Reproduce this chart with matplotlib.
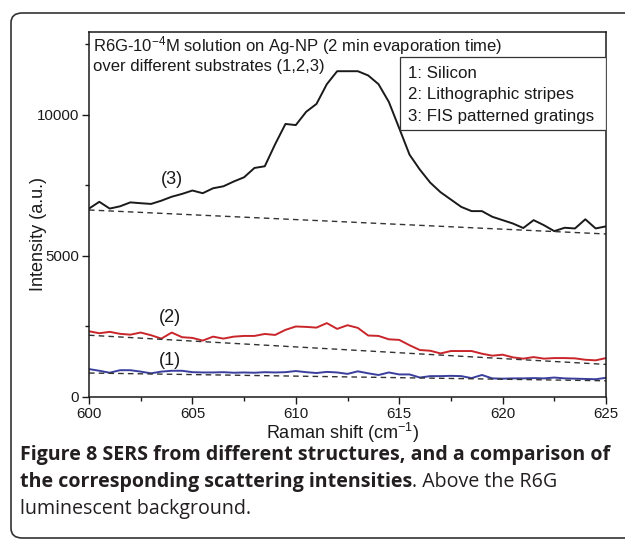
import matplotlib
matplotlib.use("Agg")
import matplotlib.pyplot as plt
from matplotlib.patches import FancyBboxPatch, Rectangle
from matplotlib.ticker import MultipleLocator

plt.rcParams['font.family'] = ['Liberation Sans', 'DejaVu Sans']
plt.rcParams['mathtext.fontset'] = 'custom'
plt.rcParams['mathtext.rm'] = 'Liberation Sans'
plt.rcParams['mathtext.it'] = 'Liberation Sans:italic'
plt.rcParams['mathtext.bf'] = 'Liberation Sans:bold'

# ---- data ----
raman_shift = [600.0, 600.5, 601.0, 601.5, 602.0, 602.5, 603.0, 603.5, 604.0, 604.5,
               605.0, 605.5, 606.0, 606.5, 607.0, 607.5, 608.0, 608.5, 609.0, 609.5,
               610.0, 610.5, 611.0, 611.5, 612.0, 612.5, 613.0, 613.5, 614.0, 614.5,
               615.0, 615.5, 616.0, 616.5, 617.0, 617.5, 618.0, 618.5, 619.0, 619.5,
               620.0, 620.5, 621.0, 621.5, 622.0, 622.5, 623.0, 623.5, 624.0, 624.5,
               625.0]

silicon = [990, 930, 860, 950, 950, 900, 840, 900, 930, 930,
           880, 870, 870, 880, 860, 870, 860, 880, 870, 880,
           920, 880, 850, 890, 870, 820, 910, 840, 780, 870,
           800, 800, 690, 740, 740, 750, 740, 670, 780, 660,
           650, 660, 660, 670, 660, 690, 660, 650, 640, 630,
           680]

litho_stripes = [2330, 2260, 2310, 2240, 2210, 2285, 2190, 2070, 2285, 2120,
                 2095, 2000, 2140, 2070, 2140, 2165, 2165, 2235, 2200, 2380,
                 2500, 2485, 2460, 2620, 2415, 2545, 2450, 2180, 2165, 2045,
                 2025, 1835, 1665, 1640, 1545, 1630, 1630, 1630, 1535, 1465,
                 1500, 1405, 1360, 1415, 1360, 1380, 1380, 1370, 1320, 1300,
                 1380]

fis_gratings = [6680, 6920, 6680, 6760, 6900, 6870, 6845, 6960, 7100, 7200,
                7320, 7225, 7400, 7470, 7640, 7790, 8120, 8180, 8960, 9680,
                9640, 10110, 10390, 11090, 11550, 11550, 11550, 11400, 11090, 10460,
                9530, 8590, 8060, 7600, 7260, 7000, 6740, 6590, 6590, 6390,
                6270, 6150, 5990, 6270, 6090, 5880, 6000, 5975, 6300, 5975,
                6050]

baseline_x = [600, 625]
baseline_1 = [850, 575]
baseline_2 = [2190, 1155]
baseline_3 = [6630, 5780]

curve_labels = ["(1)", "(2)", "(3)"]
curve_label_x = [603.9, 603.9, 604.0]
curve_label_y = [1310, 2830, 7700]

title_lines = ["R6G-10$^{-4}$M solution on Ag-NP (2 min evaporation time)",
               "over different substrates (1,2,3)"]
legend_lines = ["1: Silicon", "2: Lithographic stripes", "3: FIS patterned gratings"]

W, H = 625, 540
fig = plt.figure(figsize=(W / 100, H / 100), dpi=100)


def fx(px):
    return px / W


def fy(py):
    return 1 - py / H


# outer rounded frame
frame = FancyBboxPatch((fx(11), fy(538)), (700 - 11) / W, (538 - 13) / H,
                       boxstyle="round,pad=0,rounding_size=0.018",
                       transform=fig.transFigure, fill=False,
                       edgecolor='#333333', linewidth=1.2, clip_on=False)
fig.patches.append(frame)

ax = fig.add_axes([fx(89), fy(397), (606 - 89) / W, (397 - 32) / H])

ax.plot(raman_shift, silicon, color='#3a3f9e', lw=1.4)
ax.plot(raman_shift, litho_stripes, color='#c9262b', lw=1.4)
ax.plot(raman_shift, fis_gratings, color='#1a1a1a', lw=1.4)
for b in (baseline_1, baseline_2, baseline_3):
    ax.plot(baseline_x, b, color='#333333', lw=1.0, ls=(0, (4, 3)))

for t, x, y in zip(curve_labels, curve_label_x, curve_label_y):
    ax.text(x, y, t, fontsize=13, ha='center', va='center', color='#1a1a1a')

ax.set_xlim(600, 625)
ax.set_ylim(0, 12940)
ax.xaxis.set_major_locator(MultipleLocator(5))
ax.xaxis.set_minor_locator(MultipleLocator(2.5))
ax.yaxis.set_major_locator(MultipleLocator(5000))
ax.yaxis.set_minor_locator(MultipleLocator(2500))
ax.tick_params(which='both', direction='out', top=False, right=False,
               labelsize=10.8, colors='#1a1a1a', width=1.0)
ax.tick_params(which='major', length=5, pad=2)
ax.tick_params(which='minor', length=3)
for s in ax.spines.values():
    s.set_linewidth(1.1)
    s.set_color('#1a1a1a')

ax.set_xlabel("Raman shift (cm$^{-1}$)", fontsize=13, color='#1a1a1a')
ax.xaxis.set_label_coords(0.49, -0.066)
ax.set_ylabel("Intensity (a.u.)", fontsize=13, color='#1a1a1a')
ax.yaxis.set_label_coords(-0.082, 0.447)

# title lines (placed in figure pixels)
for t, py in zip(title_lines, [46, 67]):
    fig.text(fx(93), fy(py), t, ha='left', va='center', fontsize=12, color='#1a1a1a')

# legend-like box
ax.add_patch(Rectangle((fx(400), fy(130)), (606 - 400) / W, (130 - 57) / H,
                       transform=fig.transFigure, fill=True, facecolor='white',
                       edgecolor='#333333', lw=0.9, zorder=5))
for t, py in zip(legend_lines, [73, 95, 117]):
    fig.text(fx(408), fy(py), t, ha='left', va='center', fontsize=12.2,
             color='#1a1a1a', zorder=6)

# caption
cap_font = ['Open Sans', 'DejaVu Sans']
cap_col = '#231f20'
fs = 14.1
fig.text(fx(20), fy(455), "Figure 8 SERS from different structures, and a comparison of",
         fontsize=fs, fontweight='bold', family=cap_font, color=cap_col, va='center', ha='left')
t1 = fig.text(fx(20), fy(482), "the corresponding scattering intensities",
              fontsize=fs, fontweight='bold', family=cap_font, color=cap_col, va='center', ha='left')
fig.canvas.draw()
bb = t1.get_window_extent()
fig.text(bb.x1 / W, fy(482), ". Above the R6G",
         fontsize=fs, family=cap_font, color=cap_col, va='center', ha='left')
fig.text(fx(20), fy(509), "luminescent background.",
         fontsize=fs, family=cap_font, color=cap_col, va='center', ha='left')

fig.savefig("out.png", dpi=100)
